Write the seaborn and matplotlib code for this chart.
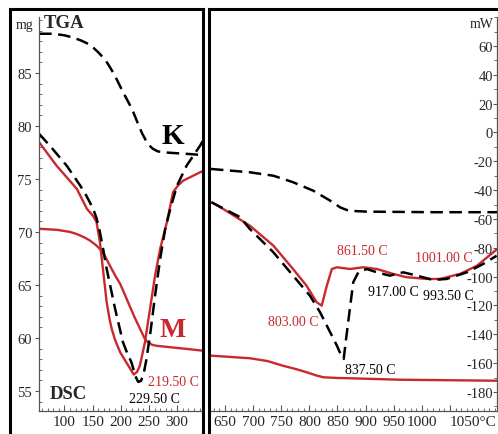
import matplotlib
matplotlib.use("Agg")
from matplotlib import pyplot as plt
from matplotlib.patches import Rectangle
from matplotlib.ticker import MultipleLocator
import seaborn as sns

# ---- left part (55-346 C), values in mg on the left axis ----
tga_k_t1 = [55, 80, 100, 115, 130, 142, 152, 160, 168, 176, 183, 190, 204, 220, 230, 238, 245, 251, 257, 266, 280, 293, 323, 346]
tga_k_w1 = [88.7, 88.7, 88.55, 88.35, 88.05, 87.75, 87.35, 86.95, 86.5, 85.95, 85.35, 84.7, 83.2, 81.6, 80.3, 79.3, 78.6, 78.15, 77.85, 77.6, 77.5, 77.45, 77.35, 77.25]

tga_m_t1 = [55, 87, 110, 122, 135, 145, 155, 163, 172, 181, 190, 199, 208, 216, 225, 234, 242, 247, 256, 265, 293, 320, 346]
tga_m_w1 = [70.3, 70.2, 70.0, 69.8, 69.5, 69.2, 68.8, 68.4, 67.7, 66.8, 65.9, 65.1, 64.0, 63.0, 61.9, 60.9, 60.0, 59.65, 59.35, 59.25, 59.1, 58.95, 58.8]

dsc_k_t1 = [55, 74, 104, 128, 138, 145, 151, 157, 163, 169, 175, 190, 204, 212, 219, 226, 231, 236, 241, 245, 252, 261, 270, 279, 288, 300, 317, 341, 346]
dsc_k_w1 = [79.25, 78.14, 76.25, 74.37, 73.5, 72.8, 72.17, 71.3, 69.97, 68.3, 66.51, 62.74, 59.59, 58.5, 57.71, 56.4, 55.85, 55.95, 56.7, 57.8, 60.22, 63.99, 67.45, 70.28, 72.17, 74.37, 76.25, 78.14, 78.6]

dsc_m_t1 = [55, 86, 122, 140, 151, 157, 163, 169, 175, 180, 184, 190, 199, 211, 218, 223, 229, 234, 243, 252, 261, 270, 282, 293, 302, 311, 341, 346]
dsc_m_w1 = [78.46, 76.25, 74.06, 72.17, 71.5, 70.92, 69.03, 66.2, 63.37, 61.8, 60.85, 59.8, 58.65, 57.6, 57.0, 56.55, 56.8, 57.39, 59.59, 62.74, 65.88, 68.4, 70.92, 73.75, 74.4, 74.84, 75.63, 75.75]

# ---- right part (625-1134 C), values in mW on the right axis ----
tga_k_t2 = [625, 694, 736, 771, 807, 837, 855, 870, 902, 1020, 1134]
tga_k_w2 = [-25.3, -27.6, -30.0, -34.5, -40.4, -47.3, -52.0, -54.3, -54.9, -55.3, -55.3]

tga_m_t2 = [625, 694, 725, 753, 775, 795, 812, 825, 850, 872, 961, 1134]
tga_m_w2 = [-154.8, -156.6, -158.5, -161.8, -164.0, -166.3, -168.5, -169.8, -170.3, -170.5, -171.5, -172.2]

dsc_m_t2 = [626, 647, 694, 736, 771, 795, 813, 822, 831, 840, 849, 872, 896, 920, 949, 973, 1009, 1032, 1068, 1098, 1127, 1134]
dsc_m_w2 = [-48.4, -53.1, -64.6, -78.5, -94.7, -106.3, -117.8, -120.1, -106.3, -94.7, -93.5, -94.7, -93.5, -94.7, -98.1, -100.4, -101.6, -101.6, -98.1, -92.4, -83.1, -80.8]

dsc_k_t2 = [626, 677, 694, 736, 771, 801, 819, 834, 849, 858, 861, 866, 872, 878, 887, 902, 920, 943, 967, 991, 1020, 1044, 1080, 1109, 1133]
dsc_k_w2 = [-48.4, -58.8, -66.9, -83.1, -99.3, -113.2, -124.7, -136.3, -147.9, -155.9, -157.1, -140.9, -122.4, -103.9, -97.0, -94.7, -97.0, -99.3, -97.0, -99.3, -102.3, -101.6, -97.0, -91.2, -85.5]

x1_ticks = [100, 150, 200, 250, 300]
x2_ticks = [650, 700, 750, 800, 850, 900, 950, 1000, 1050]
x2_labels = ["650", "700", "750", "800", "850", "900", "950", "1000", "1050°C"]
mg_ticks = [55, 60, 65, 70, 75, 80, 85]
mw_ticks = [-180, -160, -140, -120, -100, -80, -60, -40, -20, 0, 20, 40, 60]

RED = "#c9282d"

sns.set_style("ticks")
plt.rcParams["font.family"] = ["Liberation Serif", "DejaVu Serif"]

W, H = 498, 435
fig = plt.figure(figsize=(W / 100, H / 100), dpi=100)


def fx(x):
    return x / W


def fy(y):
    return 1 - y / H


ax1 = fig.add_axes([fx(39), fy(412), fx(203) - fx(39), fy(18) - fy(412)])
ax2 = fig.add_axes([fx(211), fy(412), fx(497) - fx(211), fy(18) - fy(412)])

dash = (0, (5, 2.6))
for ax, tk, wk, tm, wm, dk, dkw, dm, dmw in [
    (ax1, tga_k_t1, tga_k_w1, tga_m_t1, tga_m_w1, dsc_k_t1, dsc_k_w1, dsc_m_t1, dsc_m_w1),
    (ax2, tga_k_t2, tga_k_w2, tga_m_t2, tga_m_w2, dsc_k_t2, dsc_k_w2, dsc_m_t2, dsc_m_w2),
]:
    sns.lineplot(x=tm, y=wm, ax=ax, color=RED, lw=1.7, estimator=None)
    sns.lineplot(x=dm, y=dmw, ax=ax, color=RED, lw=1.7, estimator=None)
    sns.lineplot(x=tk, y=wk, ax=ax, color="black", lw=1.8, linestyle=dash, estimator=None)
    sns.lineplot(x=dk, y=dkw, ax=ax, color="black", lw=1.8, linestyle=dash, estimator=None)

ax1.set_xlim(54.7, 346.2)
ax1.set_ylim(53.11, 90.28)
ax2.set_xlim(625.1, 1133.6)
ax2.set_ylim(-193.2, 80.1)

for ax in (ax1, ax2):
    ax.set_xlabel("")
    ax.set_ylabel("")
    ax.patch.set_visible(False)
    ax.spines["top"].set_visible(False)
    for s in ax.spines.values():
        s.set_linewidth(0.9)
        s.set_color("#555555")
    ax.xaxis.set_minor_locator(MultipleLocator(10))
    ax.tick_params(axis="x", which="both", direction="in", labelsize=11, pad=3,
                   color="#555555")
    ax.tick_params(axis="x", which="major", length=4)
    ax.tick_params(axis="x", which="minor", length=2.5)

ax1.spines["right"].set_visible(False)
ax2.spines["left"].set_visible(False)

ax1.set_xticks(x1_ticks)
ax1.set_yticks(mg_ticks)
ax1.yaxis.set_minor_locator(MultipleLocator(1))
ax1.tick_params(axis="y", which="major", direction="out", length=3, labelsize=10.5, pad=2,
                color="#555555")
ax1.tick_params(axis="y", which="minor", direction="in", length=2, color="#555555")

ax2.set_xticks(x2_ticks)
xl = ax2.set_xticklabels(x2_labels)
xl[-1].set_ha("left")
ax2.yaxis.tick_right()
ax2.set_yticks(mw_ticks)
ax2.set_yticklabels([str(v) for v in mw_ticks], ha="right")
ax2.yaxis.set_minor_locator(MultipleLocator(10))
ax2.tick_params(axis="y", which="major", direction="in", length=3, labelsize=10.5,
                labelright=True, pad=-3, color="#555555")
ax2.tick_params(axis="y", which="minor", direction="in", length=2, color="#555555")

# peak labels
ax1.text(292.9, 55.94, "219.50 C", color=RED, fontsize=10, ha="center", va="center")
ax1.text(259.1, 54.25, "229.50 C", color="black", fontsize=10, ha="center", va="center")
ax1.text(292.4, 79.08, "K", color="black", fontsize=21, fontweight="bold", ha="center", va="center")
ax1.text(292.5, 60.82, "M", color=RED, fontsize=20, fontweight="bold", ha="center", va="center")

ax2.text(893.6, -82.2, "861.50 C", color=RED, fontsize=10, ha="center", va="center")
ax2.text(1039.3, -87.0, "1001.00 C", color=RED, fontsize=10, ha="center", va="center")
ax2.text(770.9, -131.4, "803.00 C", color=RED, fontsize=10, ha="center", va="center")
ax2.text(948.7, -110.0, "917.00 C", color="black", fontsize=10, ha="center", va="center")
ax2.text(1046.4, -113.4, "993.50 C", color="black", fontsize=10, ha="center", va="center")
ax2.text(907.8, -164.7, "837.50 C", color="black", fontsize=10, ha="center", va="center")

fig.text(fx(64), fy(24), "TGA", fontsize=13.5, fontweight="bold", ha="center", va="center")
fig.text(fx(68), fy(395), "DSC", fontsize=13.5, fontweight="bold", ha="center", va="center")
fig.text(fx(24), fy(26), "mg", fontsize=10, ha="center", va="center")
fig.text(fx(494), fy(25), "mW", fontsize=10, ha="right", va="center")

# panel frames
for x0, x1 in [(10, 203), (209, 520)]:
    fig.add_artist(Rectangle((fx(x0), fy(445)), fx(x1) - fx(x0), fy(10) - fy(445),
                             transform=fig.transFigure, fill=False, lw=2.2,
                             ec="black", clip_on=False))

fig.savefig("out.png", dpi=100)
